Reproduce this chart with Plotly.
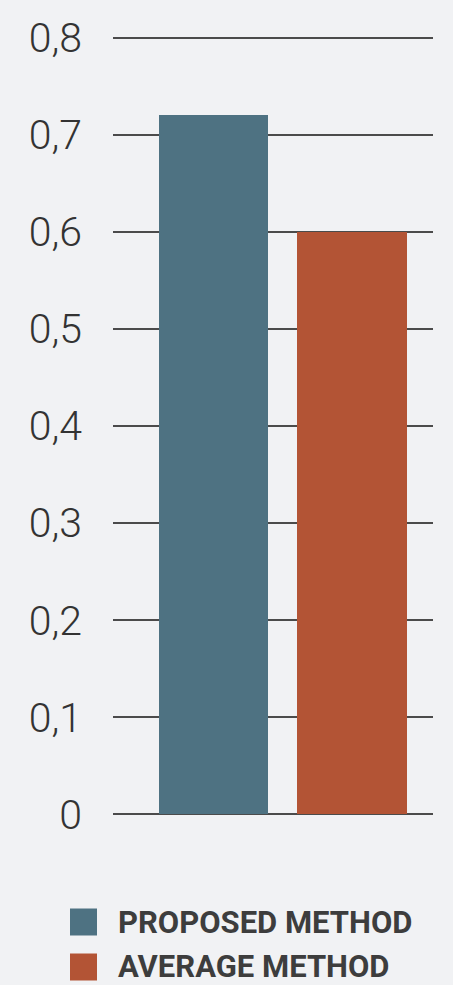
import plotly.graph_objects as go

# Chart data
methods = ["PROPOSED METHOD", "AVERAGE METHOD"]
scores = [0.72, 0.60]
bar_colors = ["#4e7282", "#b35435"]
tick_values = [0, 0.1, 0.2, 0.3, 0.4, 0.5, 0.6, 0.7, 0.8]
tick_labels = ["0", "0,1", "0,2", "0,3", "0,4", "0,5", "0,6", "0,7", "0,8"]

BG = "#f1f2f4"
GRID = "#4b4b4b"
FONT = "Roboto, sans-serif"

# Plot area geometry in pixels (used to place the legend below it)
W, H = 453, 985
M_L, M_R, M_T, M_B = 113, 20, 28, 161
PLOT_W = W - M_L - M_R
PLOT_H = H - M_T - M_B


def px_x(x):
    return (x - M_L) / PLOT_W


def px_y(y):
    return (H - M_B - y) / PLOT_H


fig = go.Figure()
fig.add_trace(go.Bar(
    x=methods,
    y=scores,
    marker=dict(color=bar_colors, line=dict(width=0)),
    width=0.785,
    showlegend=False,
))

fig.update_layout(
    width=W,
    height=H,
    paper_bgcolor=BG,
    plot_bgcolor=BG,
    margin=dict(l=M_L, r=M_R, t=M_T, b=M_B),
    separators=",.",
    xaxis=dict(
        type="category",
        range=[-0.72, 1.583],
        showticklabels=False,
        showgrid=False,
        zeroline=False,
        showline=False,
        ticks="",
    ),
    yaxis=dict(
        range=[-0.01, 0.81],
        tickvals=tick_values,
        ticktext=tick_labels,
        showgrid=True,
        gridcolor=GRID,
        gridwidth=2,
        zeroline=False,
        showline=False,
        ticks="",
        ticklabelstandoff=30,
        tickfont=dict(family=FONT, size=41, color="#333333", weight=300),
    ),
    bargap=0,
)

# Legend drawn as colour swatches with bold captions below the plot
legend_rows = [(922, methods[0], bar_colors[0]), (967, methods[1], bar_colors[1])]
for yc, label, color in legend_rows:
    fig.add_shape(
        type="rect", xref="paper", yref="paper",
        x0=px_x(70), x1=px_x(97),
        y0=px_y(yc + 13.5), y1=px_y(yc - 13.5),
        fillcolor=color, line=dict(width=0), layer="above",
    )
    fig.add_annotation(
        xref="paper", yref="paper",
        x=px_x(116), y=px_y(yc),
        xanchor="left", yanchor="middle",
        text=label,
        showarrow=False,
        font=dict(family=FONT, size=31, color="#3d3d3d", weight=700),
    )

fig.write_html("out.html")
